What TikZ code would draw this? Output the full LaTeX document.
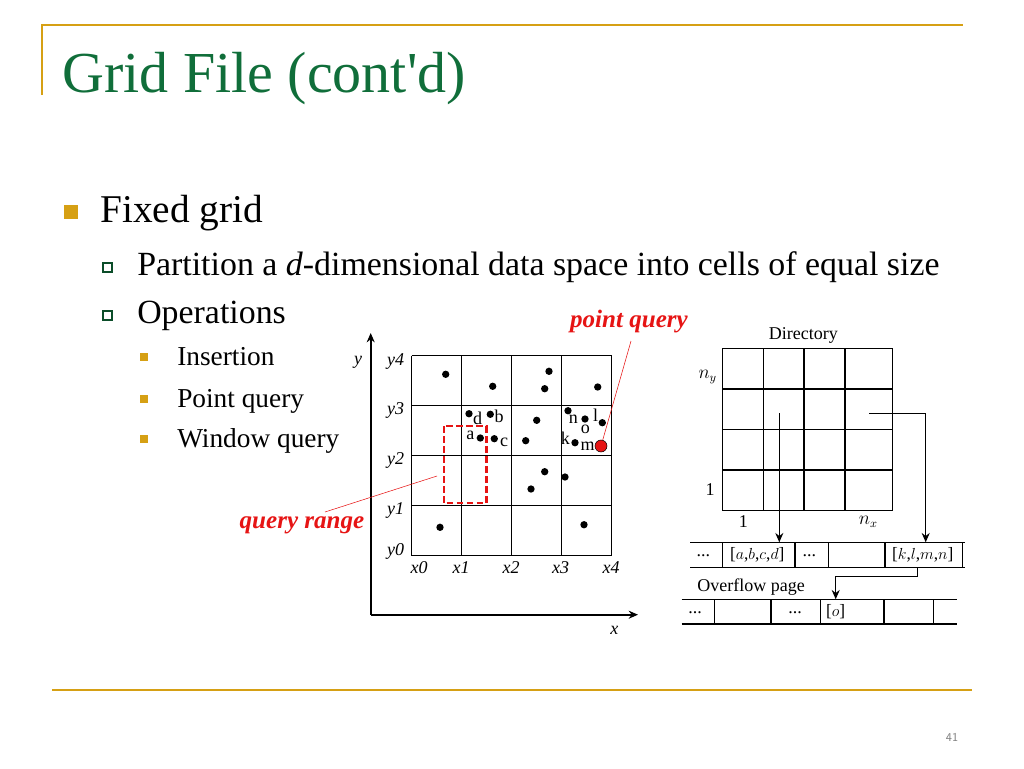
\documentclass[tikz,border=0pt]{standalone}
\usepackage{fontspec}
\setmainfont{Liberation Serif}
\usetikzlibrary{arrows.meta}
\definecolor{titlegreen}{RGB}{16,110,58}
\definecolor{slidegold}{RGB}{214,160,20}
\definecolor{qred}{RGB}{230,20,20}
\tikzset{
  pt/.style={circle, fill=black, inner sep=0pt, minimum size=5.5pt},
  lab/.style={font=\fontsize{13.5}{14}\selectfont, inner sep=0pt},
  axlab/.style={font=\fontsize{13.5}{14}\selectfont\itshape, inner sep=0pt},
  cell/.style={font=\fontsize{13}{13}\selectfont, inner sep=0pt},
  redlab/.style={font=\fontsize{18.8}{19}\selectfont\bfseries\itshape, text=qred, inner sep=0pt},
  body/.style={anchor=base west, inner sep=0pt},
  arr/.style={-{Stealth[length=7pt,width=6pt]}, thick}
}
\begin{document}
\begin{tikzpicture}[x=0.75pt, y=-0.75pt]
\useasboundingbox (0,0) rectangle (1024,768);
% slide frame
\draw[slidegold, line width=1.2pt] (42,95) -- (42,25) -- (963,25);
\draw[slidegold, line width=1.5pt] (52,690) -- (972,690);
\node[body, text=titlegreen, font=\fontsize{43.5}{44}\selectfont] (title) at (62,92) {Grid File (cont\textquotesingle d)};
\node[font=\sffamily\fontsize{9}{9}\selectfont, text=gray] (pg) at (952,737) {41};
% bullets
\fill[slidegold] (64,205) rectangle (78,219);
\node[body, font=\fontsize{29.5}{30}\selectfont] (fixed) at (100,222) {Fixed grid};
\foreach \yy in {275,323}
  \draw[titlegreen!70!black, line width=0.8pt] (103,\yy-12) rectangle (112,\yy-3);
\node[body, font=\fontsize{25.4}{26}\selectfont] (part) at (137,275) {Partition a \textit{d}-dimensional data space into cells of equal size};
\node[body, font=\fontsize{25.4}{26}\selectfont] (ops) at (137,323) {Operations};
\foreach \yy/\tx in {365/Insertion, 407/Point query, 447/Window query} {
  \fill[slidegold] (140,\yy-12) rectangle (148,\yy-4);
  \node[body, font=\fontsize{20.5}{21}\selectfont] at (177,\yy) {\tx};
}
% axes and grid
\coordinate (o) at (370.7,614.7);
\draw[arr, line width=1.6pt] (o) -- (370.7,333);
\draw[arr, line width=1.6pt] (o) -- (638,614.7);
\node[axlab] (ylab) at (358,362.7) {y};
\node[axlab] (xlab) at (614.3,630) {x};
\foreach \k in {0,...,4} {
  \draw[line width=0.9pt] (411.7+50*\k,355.7) -- (411.7+50*\k,555.7);
  \draw[line width=0.9pt] (411.7,355.7+50*\k) -- (611.7,355.7+50*\k);
}
\foreach \i/\yy in {0/551.7,1/510.7,2/460,3/410.7,4/361.7}
  \node[axlab] at (395.5,\yy) {y\i};
\foreach \i/\xx in {0/419,1/461,2/511,3/560.7,4/611}
  \node[axlab] at (\xx,568) {x\i};
% points
\foreach \px/\py in {445.7/374.3, 492.7/386.3, 549/371.3, 544.7/388.7, 597.7/387,
  469/413.7, 490.3/414.3, 480.3/438, 494.3/438.7, 536.7/420.3, 525.7/440.7,
  568/410.7, 585/419, 602.3/422.7, 575/442.7, 544.7/471.7, 565/477, 531/489,
  440/527.3, 584/524.7}
  \node[pt] at (\px,\py) {};
\foreach \px/\py/\tx in {477.7/418/d, 499/416.7/b, 470.3/435.3/a, 504/442.7/c,
  573.3/419.3/n, 585.3/429/o, 595.7/415.3/l, 565.3/438.3/k, 587.7/446/m}
  \node[lab] at (\px,\py) {\tx};
\node[circle, fill=qred, draw=black, inner sep=0pt, minimum size=9pt] (mq) at (601,446) {};
\draw[qred, line width=1.8pt, dash pattern=on 5pt off 2.5pt] (443.7,426) rectangle (486.3,503);
\coordinate (rng) at (437,476);
\node[redlab] (qr) at (302,525) {query range};
\node[redlab] (pq) at (629,322) {point query};
\draw[qred, thin] (325,512) -- (rng);
\draw[qred, thin] (631,341) -- (mq);
% directory
\node[lab] (dir) at (803.3,335) {Directory};
\draw[line width=0.9pt] (722.3,348.3) rectangle (892.7,510.7);
\foreach \xx in {763.3,804,845} \draw[line width=0.9pt] (\xx,348.3) -- (\xx,510.7);
\foreach \yy in {389,429.3,470} \draw[line width=0.9pt] (722.3,\yy) -- (892.7,\yy);
\node[lab] (ny) at (707.7,377) {$n_y$};
\node[lab] (one1) at (710,489.3) {1};
\node[lab] (one2) at (743.3,521.7) {1};
\node[lab] (nx) at (868.3,521.7) {$n_x$};
% bucket row
\draw[line width=0.9pt] (690,542.3) -- (965,542.3) (690,567.3) -- (965,567.3);
\foreach \xx in {722.3,795,828.3,885,962.7} \draw[line width=0.9pt] (\xx,542.3) -- (\xx,567.3);
\node[lab] (b1) at (703.3,556) {...};
\node[cell] (abcd) at (757.3,555) {[$a$,$b$,$c$,$d$]};
\node[lab] (b2) at (809.3,556) {...};
\node[cell] (klmn) at (922.7,555) {[$k$,$l$,$m$,$n$]};
% overflow row
\node[lab] (ovf) at (751,586.7) {Overflow page};
\draw[line width=0.9pt] (681.7,599.3) -- (957.3,599.3) (681.7,624) -- (957.3,624);
\foreach \xx in {714.3,771,820.3,884,933.3} \draw[line width=0.9pt] (\xx,599.3) -- (\xx,624);
\node[lab] (o1) at (695,613) {...};
\node[lab] (o2) at (795,613) {...};
\node[cell] (obox) at (835.7,612) {[$o$]};
% pointers
\coordinate (c1) at (779.3,413.3);
\coordinate (c2) at (869,413.3);
\draw[arr, line width=1pt] (c1) -- (779.3,542.3);
\draw[arr, line width=1pt] (c2) -- (925.7,413.3) -- (925.7,542.3);
\draw[arr, line width=1pt] (917.3,567.3) -- (917.3,576.7) -- (835.7,576.7) -- (835.7,599.3);
\end{tikzpicture}
\end{document}
